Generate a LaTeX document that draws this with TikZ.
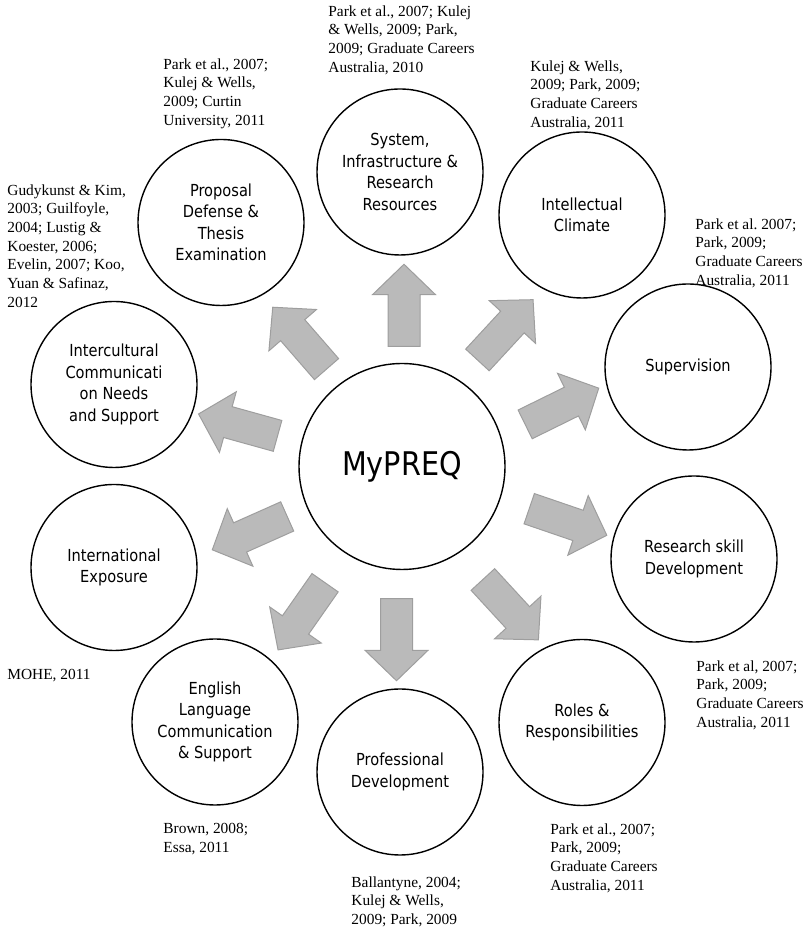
\documentclass[tikz,border=0pt]{standalone}
\usepackage{fontspec}
\setmainfont{Liberation Serif}
\newfontfamily\circfont[FakeStretch=0.88]{DejaVu Sans}
\usepackage{tikz}
\usetikzlibrary{shapes.geometric, shapes.arrows, positioning}
\tikzstyle{factor} = [circle, draw=black, line width=0.7pt, minimum size=83pt, inner sep=0pt, align=center, font=\circfont\fontsize{8.3}{10.75}\selectfont]
\tikzstyle{cite} = [anchor=north west, inner sep=0pt, align=left, font=\frenchspacing\fontsize{7.7}{9.35}\selectfont]
\tikzstyle{blockarrow} = [single arrow, draw=black!38, fill=black!27, line width=0.5pt, inner xsep=0pt, inner ysep=7.75pt, minimum height=41pt, minimum width=31pt, single arrow head extend=7.75pt, single arrow tip angle=92]

\begin{document}
\begin{tikzpicture}[x=0.5pt, y=0.5pt]
\useasboundingbox (0,0) rectangle (809,930);

% Nodes
\node (mypreq) [factor, minimum size=103pt, font=\circfont\fontsize{16.3}{19}\selectfont] at (402,463.5) {MyPREQ};
\node (system) [factor] at (400,758) {System,\\Infrastructure \&\\Research\\Resources};
\node (climate) [factor] at (582,715) {Intellectual\\Climate};
\node (supervision) [factor] at (688,563) {Supervision};
\node (skill) [factor] at (694,371) {Research skill\\Development};
\node (roles) [factor] at (582,207.5) {Roles \&\\Responsibilities};
\node (professional) [factor] at (400,158) {Professional\\Development};
\node (english) [factor] at (215,208) {English\\Language\\Communication\\\& Support};
\node (international) [factor] at (114,362.5) {International\\Exposure};
\node (intercultural) [factor] at (114,545.5) {Intercultural\\Communicati\\on Needs\\and Support};
\node (proposal) [factor] at (221,707.5) {Proposal\\Defense \&\\Thesis\\Examination};

% Sources
\node (systemref) [cite] at (328,925) {Park et al., 2007; Kulej\\\& Wells, 2009; Park,\\2009; Graduate Careers\\Australia, 2010};
\node (proposalref) [cite] at (163,872) {Park et al., 2007;\\Kulej \& Wells,\\2009; Curtin\\University, 2011};
\node (climateref) [cite] at (530,870) {Kulej \& Wells,\\2009; Park, 2009;\\Graduate Careers\\Australia, 2011};
\node (interculturalref) [cite] at (7,746) {Gudykunst \& Kim,\\2003; Guilfoyle,\\2004; Lustig \&\\Koester, 2006;\\Evelin, 2007; Koo,\\Yuan \& Safinaz,\\2012};
\node (supervisionref) [cite] at (695,712) {Park et al. 2007;\\Park, 2009;\\Graduate Careers\\Australia, 2011};
\node (internationalref) [cite] at (7,261) {MOHE, 2011};
\node (skillref) [cite] at (696,270) {Park et al, 2007;\\Park, 2009;\\Graduate Careers\\Australia, 2011};
\node (englishref) [cite] at (163,107) {Brown, 2008;\\Essa, 2011};
\node (rolesref) [cite] at (550,107) {Park et al., 2007;\\Park, 2009;\\Graduate Careers\\Australia, 2011};
\node (professionalref) [cite] at (351,54) {Ballantyne, 2004;\\Kulej \& Wells,\\2009; Park, 2009};

% Arrows
\node (tosystem) [blockarrow, rotate=90] at (404,617) {};
\node (toclimate) [blockarrow, rotate=47.3] at (500,594.5) {};
\node (tosupervision) [blockarrow, rotate=26.2] at (555,520.3) {};
\node (toskill) [blockarrow, rotate=-18.9] at (560.7,410.5) {};
\node (toroles) [blockarrow, rotate=-47.4] at (505.4,326) {};
\node (toprofessional) [blockarrow, rotate=-90] at (396.5,298) {};
\node (toenglish) [blockarrow, rotate=235] at (306,320) {};
\node (tointernational) [blockarrow, rotate=204] at (256.8,400) {};
\node (tointercultural) [blockarrow, rotate=164.5] at (245.5,503) {};
\node (toproposal) [blockarrow, rotate=131] at (304.7,586) {};

\end{tikzpicture}
\end{document}
